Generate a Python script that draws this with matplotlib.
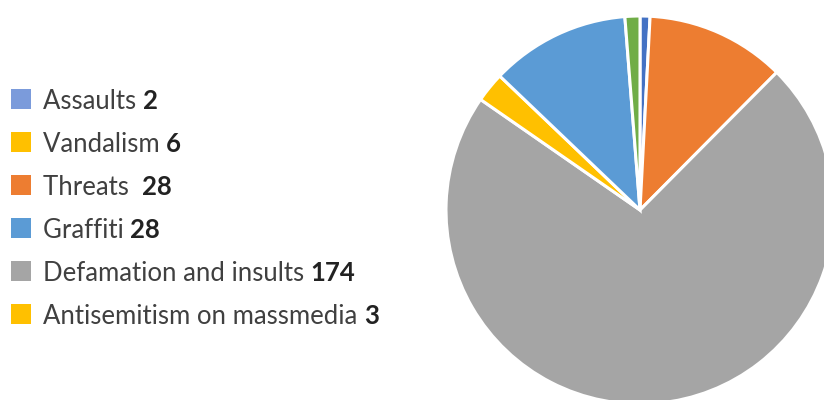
import matplotlib.pyplot as plt
from matplotlib.patches import Rectangle

# legend entries (as printed)
labels = ["Assaults", "Vandalism", "Threats ", "Graffiti", "Defamation and insults", "Antisemitism on massmedia"]
counts = [2, 6, 28, 28, 174, 3]
legend_colors = ["#7B9BDB", "#FFC000", "#ED7D31", "#5B9BD5", "#A5A5A5", "#FFC000"]

# pie slices, clockwise from top
pie_values = [2, 28, 174, 6, 28, 3]
pie_colors = ["#4472C4", "#ED7D31", "#A5A5A5", "#FFC000", "#5B9BD5", "#70AD47"]

W, H = 824, 400
fig = plt.figure(figsize=(W / 100, H / 100), dpi=100)
ax = fig.add_axes([0, 0, 1, 1])

ax.pie(pie_values, colors=pie_colors, startangle=90, counterclock=False,
       center=(640, H - 210), radius=194,
       wedgeprops=dict(edgecolor="white", linewidth=2.2))
ax.set_xlim(0, W)
ax.set_ylim(0, H)
ax.set_aspect("equal")
ax.axis("off")

fig.canvas.draw()
renderer = fig.canvas.get_renderer()

y0, step = 99, 43
for i, (lab, n, c) in enumerate(zip(labels, counts, legend_colors)):
    yc = H - (y0 + i * step)
    ax.add_patch(Rectangle((11, yc - 10), 20, 20, facecolor=c, edgecolor="none"))
    t = ax.text(43, yc, lab + " ", fontsize=18.5, family="Lato", fontweight="normal",
                color="#404040", va="center_baseline", ha="left")
    bb = t.get_window_extent(renderer)
    ax.text(bb.x1, yc, str(n), fontsize=18.5, family="Lato", fontweight="bold",
            color="#222222", va="center_baseline", ha="left")

fig.savefig("out.png", dpi=100)
